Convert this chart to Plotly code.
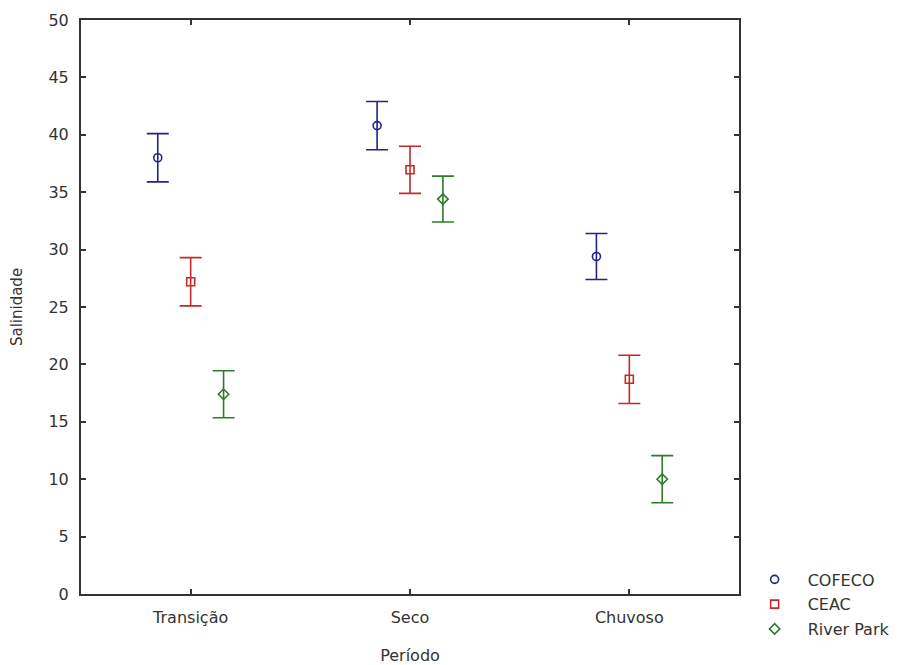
import plotly.graph_objects as go

# Salinity by period and site: means with error half-widths
periods = ["Transição", "Seco", "Chuvoso"]
sites = ["COFECO", "CEAC", "River Park"]

cofeco_mean = [38.0, 40.8, 29.4]
cofeco_err = [2.1, 2.1, 2.0]
ceac_mean = [27.2, 36.95, 18.7]
ceac_err = [2.1, 2.05, 2.1]
river_mean = [17.4, 34.4, 10.0]
river_err = [2.05, 2.0, 2.05]

y_ticks = [0, 5, 10, 15, 20, 25, 30, 35, 40, 45, 50]

series = [
    (sites[0], cofeco_mean, cofeco_err, "#23238a", "circle-open"),
    (sites[1], ceac_mean, ceac_err, "#c42a2a", "square-open"),
    (sites[2], river_mean, river_err, "#2a7d2a", "diamond-open"),
]

FONT = "DejaVu Sans"
TXT = "#333333"

fig = go.Figure()
for i, (name, mean, err, color, symbol) in enumerate(series):
    fig.add_trace(go.Scatter(
        x=periods,
        y=mean,
        name=name,
        mode="markers",
        legendgroup=name,
        marker=dict(symbol=symbol, size=8, color=color,
                    line=dict(color=color, width=1.6)),
        error_y=dict(type="data", array=err, visible=True,
                     color=color, thickness=1.6, width=11),
    ))

axis_common = dict(
    showline=True, linecolor="#333333", linewidth=2, mirror="ticks",
    ticks="inside", ticklen=5, tickwidth=1.5, tickcolor="#333333",
    showgrid=False, zeroline=False, automargin=False,
    tickfont=dict(family=FONT, size=16, color=TXT),
)

fig.update_layout(
    width=903, height=665,
    margin=dict(l=81, r=164, t=20, b=71, autoexpand=False),
    paper_bgcolor="white", plot_bgcolor="white",
    scattermode="group", scattergap=0.55,
    showlegend=True,
    legend=dict(
        x=1.004, xanchor="left", y=0.055, yanchor="top",
        font=dict(family=FONT, size=16, color=TXT),
        itemwidth=56,
        tracegroupgap=1, bgcolor="rgba(0,0,0,0)",
    ),
    xaxis=dict(
        **axis_common,
        type="category", range=[-0.5, 2.5],
        ticklabelstandoff=8,
        title=dict(text="Período", standoff=26,
                   font=dict(family=FONT, size=16, color=TXT)),
    ),
    yaxis=dict(
        **axis_common,
        range=[0, 50], tickvals=y_ticks,
        ticklabelstandoff=7,
        title=dict(text="Salinidade", standoff=22,
                   font=dict(family=FONT, size=15, color=TXT)),
    ),
)

fig.write_html("out.html")
